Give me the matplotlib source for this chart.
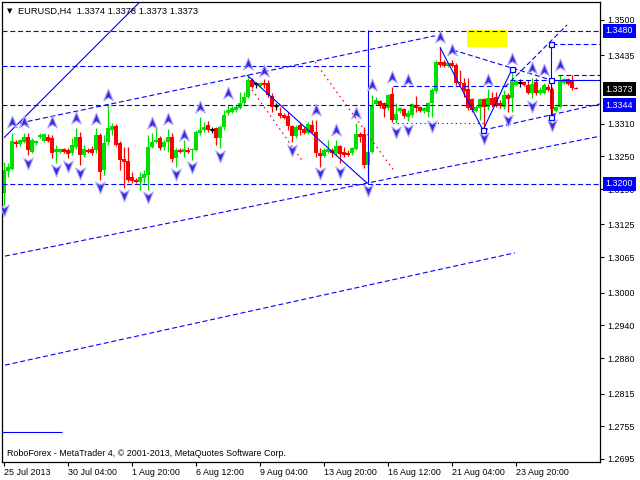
import matplotlib
matplotlib.use('Agg')
import matplotlib.pyplot as plt
import numpy as np
from matplotlib.path import Path
from matplotlib.patches import Rectangle
import matplotlib.transforms as mtransforms

# ---------------- data ----------------
opens = [1.3183,1.3223,1.3227,1.3276,1.3273,1.3276,1.3285,1.3258,1.3274,1.3285,
         1.3278,1.3285,1.3284,1.3258,1.3258,1.3263,1.3262,1.3256,1.3267,1.3285,
         1.3252,1.3262,1.3263,1.3262,1.3289,1.3225,1.3276,1.3298,1.3306,1.3274,
         1.3245,1.3241,1.3212,1.3207,1.3203,1.3210,1.3216,1.3267,1.3276,1.3284,
         1.3267,1.3276,1.3285,1.3247,1.3262,1.3258,1.3262,1.3262,1.3262,1.3293,
         1.3298,1.3307,1.3298,1.3302,1.3284,1.3304,1.3329,1.3331,1.3335,1.3339,
         1.3348,1.3359,1.3390,1.3383,1.3379,1.3384,1.3384,1.3361,1.3342,1.3329,
         1.3326,1.3324,1.3306,1.3287,1.3307,1.3300,1.3293,1.3307,1.3295,1.3256,
         1.3251,1.3258,1.3262,1.3256,1.3269,1.3258,1.3256,1.3256,1.3263,1.3291,
         1.3291,1.3234,1.3258,1.3346,1.3351,1.3348,1.3339,1.3364,1.3317,1.3333,
         1.3337,1.3322,1.3326,1.3344,1.3340,1.3333,1.3331,1.3348,1.3370,1.3423,
         1.3423,1.3416,1.3421,1.3417,1.3386,1.3384,1.3373,1.3355,1.3333,1.3339,
         1.3355,1.3340,1.3357,1.3359,1.3348,1.3340,1.3362,1.3357,1.3381,1.3384,
         1.3386,1.3381,1.3366,1.3386,1.3366,1.3366,1.3377,1.3373,1.3333,1.3340,
         1.3384,1.3392,1.3390,1.3374]
highs = [1.3240,1.3238,1.3293,1.3280,1.3282,1.3293,1.3293,1.3284,1.3280,1.3293,
         1.3293,1.3291,1.3289,1.3271,1.3265,1.3265,1.3265,1.3284,1.3302,1.3295,
         1.3271,1.3265,1.3269,1.3302,1.3293,1.3289,1.3344,1.3311,1.3309,1.3278,
         1.3267,1.3267,1.3221,1.3210,1.3221,1.3225,1.3289,1.3293,1.3304,1.3287,
         1.3280,1.3300,1.3293,1.3265,1.3265,1.3280,1.3267,1.3265,1.3298,1.3322,
         1.3313,1.3315,1.3304,1.3304,1.3307,1.3335,1.3344,1.3342,1.3344,1.3368,
         1.3368,1.3399,1.3394,1.3386,1.3386,1.3392,1.3390,1.3366,1.3348,1.3340,
         1.3329,1.3331,1.3307,1.3307,1.3311,1.3304,1.3313,1.3317,1.3317,1.3265,
         1.3265,1.3280,1.3265,1.3280,1.3271,1.3267,1.3262,1.3267,1.3311,1.3295,
         1.3304,1.3262,1.3362,1.3359,1.3353,1.3350,1.3364,1.3377,1.3348,1.3340,
         1.3339,1.3335,1.3348,1.3361,1.3342,1.3340,1.3350,1.3375,1.3427,1.3450,
         1.3427,1.3423,1.3427,1.3421,1.3408,1.3394,1.3394,1.3357,1.3344,1.3357,
         1.3357,1.3373,1.3368,1.3368,1.3353,1.3372,1.3366,1.3410,1.3390,1.3392,
         1.3388,1.3390,1.3394,1.3394,1.3377,1.3384,1.3383,1.3377,1.3342,1.3399,
         1.3394,1.3394,1.3399,1.3378]
lows = [1.3161,1.3212,1.3225,1.3267,1.3269,1.3274,1.3252,1.3256,1.3271,1.3284,
        1.3276,1.3276,1.3247,1.3238,1.3256,1.3256,1.3247,1.3252,1.3263,1.3234,
        1.3249,1.3256,1.3252,1.3256,1.3207,1.3216,1.3271,1.3289,1.3269,1.3225,
        1.3192,1.3203,1.3201,1.3201,1.3188,1.3201,1.3188,1.3265,1.3274,1.3262,
        1.3262,1.3258,1.3240,1.3230,1.3256,1.3249,1.3256,1.3243,1.3260,1.3289,
        1.3295,1.3295,1.3293,1.3271,1.3265,1.3298,1.3326,1.3329,1.3331,1.3337,
        1.3344,1.3357,1.3375,1.3375,1.3377,1.3375,1.3359,1.3331,1.3335,1.3320,
        1.3318,1.3298,1.3276,1.3284,1.3289,1.3291,1.3291,1.3293,1.3249,1.3230,
        1.3249,1.3256,1.3249,1.3252,1.3238,1.3249,1.3251,1.3252,1.3262,1.3276,
        1.3229,1.3201,1.3256,1.3344,1.3339,1.3322,1.3335,1.3313,1.3311,1.3329,
        1.3320,1.3315,1.3322,1.3331,1.3331,1.3329,1.3322,1.3322,1.3366,1.3414,
        1.3414,1.3414,1.3414,1.3381,1.3381,1.3359,1.3335,1.3331,1.3331,1.3317,
        1.3298,1.3335,1.3340,1.3340,1.3339,1.3337,1.3331,1.3331,1.3379,1.3377,
        1.3379,1.3364,1.3357,1.3362,1.3362,1.3364,1.3370,1.3322,1.3331,1.3339,
        1.3383,1.3381,1.3372,1.3373]
closes = [1.3225,1.3230,1.3278,1.3273,1.3280,1.3285,1.3262,1.3280,1.3278,1.3289,
          1.3291,1.3278,1.3256,1.3263,1.3263,1.3258,1.3254,1.3271,1.3285,1.3252,
          1.3263,1.3258,1.3256,1.3289,1.3221,1.3274,1.3302,1.3306,1.3271,1.3243,
          1.3240,1.3207,1.3205,1.3203,1.3212,1.3218,1.3267,1.3276,1.3280,1.3265,
          1.3276,1.3285,1.3245,1.3262,1.3258,1.3263,1.3258,1.3263,1.3295,1.3298,
          1.3304,1.3298,1.3298,1.3284,1.3304,1.3326,1.3335,1.3339,1.3340,1.3348,
          1.3359,1.3390,1.3377,1.3383,1.3384,1.3381,1.3362,1.3340,1.3342,1.3324,
          1.3320,1.3306,1.3287,1.3304,1.3298,1.3293,1.3309,1.3295,1.3256,1.3251,
          1.3262,1.3263,1.3256,1.3269,1.3254,1.3252,1.3252,1.3265,1.3291,1.3285,
          1.3234,1.3258,1.3344,1.3353,1.3342,1.3337,1.3362,1.3317,1.3328,1.3339,
          1.3324,1.3329,1.3346,1.3339,1.3333,1.3339,1.3348,1.3372,1.3423,1.3417,
          1.3416,1.3421,1.3416,1.3384,1.3384,1.3370,1.3339,1.3335,1.3340,1.3355,
          1.3340,1.3357,1.3344,1.3342,1.3342,1.3362,1.3355,1.3386,1.3388,1.3384,
          1.3381,1.3366,1.3383,1.3366,1.3372,1.3381,1.3372,1.3337,1.3340,1.3388,
          1.3392,1.3383,1.3375,1.3373]
doji_bars = [52, 63, 68, 129]

up_fractal_bars = [2, 5, 12, 18, 23, 26, 37, 41, 45, 49, 56, 61, 65, 78, 83, 88, 92, 97, 101,
                   109, 112, 121, 127, 132, 135, 139]
up_fractal_prices = [1.3313, 1.3313, 1.3313, 1.3320, 1.3318, 1.3362, 1.3311, 1.3318, 1.3289,
                     1.3340, 1.3366, 1.3419, 1.3406, 1.3335, 1.3298, 1.3329, 1.3381, 1.3395,
                     1.3390, 1.3469, 1.3445, 1.3390, 1.3428, 1.3412, 1.3408, 1.3417]
down_fractal_bars = [0, 6, 13, 16, 19, 24, 30, 36, 43, 47, 54, 72, 79, 84, 91, 98, 101, 107,
                     120, 126, 132, 137]
down_fractal_prices = [1.3152, 1.3238, 1.3225, 1.3232, 1.3219, 1.3194, 1.3179, 1.3175, 1.3218,
                       1.3230, 1.3251, 1.3262, 1.3219, 1.3221, 1.3188, 1.3295, 1.3298, 1.3306,
                       1.3284, 1.3317, 1.3342, 1.3307]

time_label_bars = [0, 16, 32, 48, 64, 80, 96, 112, 128]
time_labels = ['25 Jul 2013', '30 Jul 04:00', '1 Aug 20:00', '6 Aug 12:00', '9 Aug 04:00',
               '13 Aug 20:00', '16 Aug 12:00', '21 Aug 04:00', '23 Aug 20:00']
price_ticks = [1.3500, 1.3435, 1.3310, 1.3250, 1.3190, 1.3125, 1.3065, 1.3000, 1.2940,
               1.2880, 1.2815, 1.2755, 1.2695]

boxed_levels = [1.3480, 1.3373, 1.3344, 1.3200]
boxed_colors = ['#0000FF', '#000000', '#0000FF', '#0000FF']

# analysis objects (bar index, price)
solid_lines = [((0, 1.3284), (34.5, 1.3537)),
               ((60.75, 1.3399), (90.75, 1.3201)),
               ((91, 1.3482), (91, 1.3201)),
               ((109, 1.3450), (119.75, 1.3298)),
               ((119.75, 1.3298), (127, 1.3410)),
               ((136.75, 1.3456), (136.75, 1.3322)),
               ((136.75, 1.3390), (149, 1.3390)),
               ((-0.5, 1.2744), (14.5, 1.2744))]
dashed_lines = [((-0.5, 1.3480), (149, 1.3480)),
                ((-0.5, 1.3416), (91.5, 1.3416)),
                ((-0.5, 1.3344), (149, 1.3344)),
                ((-0.5, 1.3200), (149, 1.3200)),
                ((137, 1.3456), (149, 1.3456)),
                ((138.5, 1.3399), (149, 1.3399)),
                ((126.5, 1.3390), (136.75, 1.3390)),
                ((97.25, 1.3379), (126.5, 1.3379)),
                ((4, 1.3311), (107.75, 1.3471)),
                ((0.25, 1.3067), (149, 1.3287)),
                ((0.25, 1.2867), (127.75, 1.3073)),
                ((112.25, 1.3445), (136.75, 1.3390)),
                ((119.75, 1.3298), (149, 1.3346)),
                ((125.25, 1.3377), (140.75, 1.3491))]
dotted_blue_lines = [((97.25, 1.3311), (119.75, 1.3311))]
red_dotted_lines = [((62, 1.3372), (74.75, 1.3240)),
                    ((77.75, 1.3423), (97.75, 1.3221))]
square_points = [(119.75, 1.3298), (127, 1.3410), (136.75, 1.3456), (136.75, 1.3390),
                 (136.75, 1.3322)]
yellow_box = ((115.75, 1.3450), (125.75, 1.3482))

# ---------------- drawing ----------------
FONT = 'Liberation Sans'
plt.rcParams['font.family'] = [FONT, 'DejaVu Sans']

fig = plt.figure(figsize=(6.4, 4.8), dpi=100)
fig.patch.set_facecolor('white')
ax = fig.add_axes([2 / 640, 18 / 480, 598 / 640, 460 / 480])
ax.set_facecolor('white')
ax.set_xlim(-0.5, 149)
ax.set_ylim(1.26894, 1.35330)

BLUE = '#0000FF'
BULL = '#00E000'
BEAR = '#FF0000'

o = np.array(opens); h = np.array(highs); l = np.array(lows); c = np.array(closes)
idx = np.arange(len(o))
cols = []
for i in idx:
    if i in doji_bars:
        cols.append('black')
    elif c[i] > o[i]:
        cols.append(BULL)
    elif c[i] < o[i]:
        cols.append(BEAR)
    else:
        cols.append('black')

# yellow rectangle
(yx0, yp0), (yx1, yp1) = yellow_box
ax.add_patch(Rectangle((yx0, yp0), yx1 - yx0, yp1 - yp0, facecolor='#FFFF00',
                       edgecolor='none', zorder=1))

ax.vlines(idx, l, h, colors=cols, linewidth=0.9, zorder=2)
body_bottom = np.minimum(o, c)
body_h = np.maximum(np.abs(c - o), 0.00015)
ax.bar(idx, body_h, bottom=body_bottom, width=0.8, color=cols, linewidth=0, zorder=2)
for i in doji_bars:
    ax.hlines(o[i], i - 0.45, i + 0.45, colors='black', linewidth=0.9, zorder=2)

for (x0, y0), (x1, y1) in solid_lines:
    ax.plot([x0, x1], [y0, y1], color=BLUE, linewidth=0.8, zorder=3, solid_capstyle='butt')
for (x0, y0), (x1, y1) in dashed_lines:
    ax.plot([x0, x1], [y0, y1], color=BLUE, linewidth=0.8, dashes=(4.5, 2.5), zorder=3)
for (x0, y0), (x1, y1) in dotted_blue_lines:
    ax.plot([x0, x1], [y0, y1], color=BLUE, linewidth=0.8, dashes=(1, 3), zorder=3)
for (x0, y0), (x1, y1) in red_dotted_lines:
    ax.plot([x0, x1], [y0, y1], color=BEAR, linewidth=0.9, dashes=(1.2, 3), zorder=3)
sx = [p[0] for p in square_points]; sy = [p[1] for p in square_points]
ax.plot(sx, sy, linestyle='none', marker='s', markersize=3.6, markerfacecolor='white',
        markeredgecolor=BLUE, markeredgewidth=0.9, zorder=5)

up_marker = Path([(0, 1), (0.75, -0.85), (0, -0.35), (-0.75, -0.85), (0, 1)],
                 [Path.MOVETO, Path.LINETO, Path.LINETO, Path.LINETO, Path.CLOSEPOLY])
down_marker = Path([(0, -1), (0.75, 0.85), (0, 0.35), (-0.75, 0.85), (0, -1)],
                   [Path.MOVETO, Path.LINETO, Path.LINETO, Path.LINETO, Path.CLOSEPOLY])
ax.scatter(up_fractal_bars, up_fractal_prices, marker=up_marker, s=85,
           facecolor='#3030E0', edgecolor='#B8A8FF', linewidths=0.8, zorder=4)
ax.scatter(down_fractal_bars, down_fractal_prices, marker=down_marker, s=85,
           facecolor='#3030E0', edgecolor='#B8A8FF', linewidths=0.8, zorder=4)

# axes styling
for sp in ax.spines.values():
    sp.set_color('black')
    sp.set_linewidth(0.9)
ax.yaxis.tick_right()
ax.set_yticks(price_ticks)
ax.set_yticklabels(['%.4f' % p for p in price_ticks])
ax.tick_params(axis='y', direction='out', length=3, width=0.8, pad=2.5, labelsize=6.4,
               colors='black')
ax.set_xticks(time_label_bars)
ax.set_xticklabels(time_labels, ha='left')
ax.tick_params(axis='x', direction='out', length=3, width=0.8, pad=1.5, labelsize=6.4,
               colors='black')

trans = mtransforms.blended_transform_factory(ax.transAxes, ax.transData)
for lvl, col in zip(boxed_levels, boxed_colors):
    ax.text(1.0095, lvl, '%.4f' % lvl, transform=trans, ha='left', va='center',
            fontsize=6.4, color='white', zorder=10, clip_on=False,
            bbox=dict(boxstyle='square,pad=0.28', facecolor=col, edgecolor='none'))

fig.text(7 / 640, 1 - 11 / 480, '\u25bc', fontsize=5, color='black', va='center',
         family='DejaVu Sans')
fig.text(18 / 640, 1 - 11 / 480, 'EURUSD,H4  1.3374 1.3378 1.3373 1.3373', fontsize=6.7,
         color='black', va='center')
ax.text(5 / 598, 9 / 460, 'RoboForex - MetaTrader 4, \u00a9 2001-2013, MetaQuotes Software Corp.',
        transform=ax.transAxes, fontsize=6.4, color='black', va='center', ha='left')

fig.savefig('out.png', dpi=100, facecolor='white')
